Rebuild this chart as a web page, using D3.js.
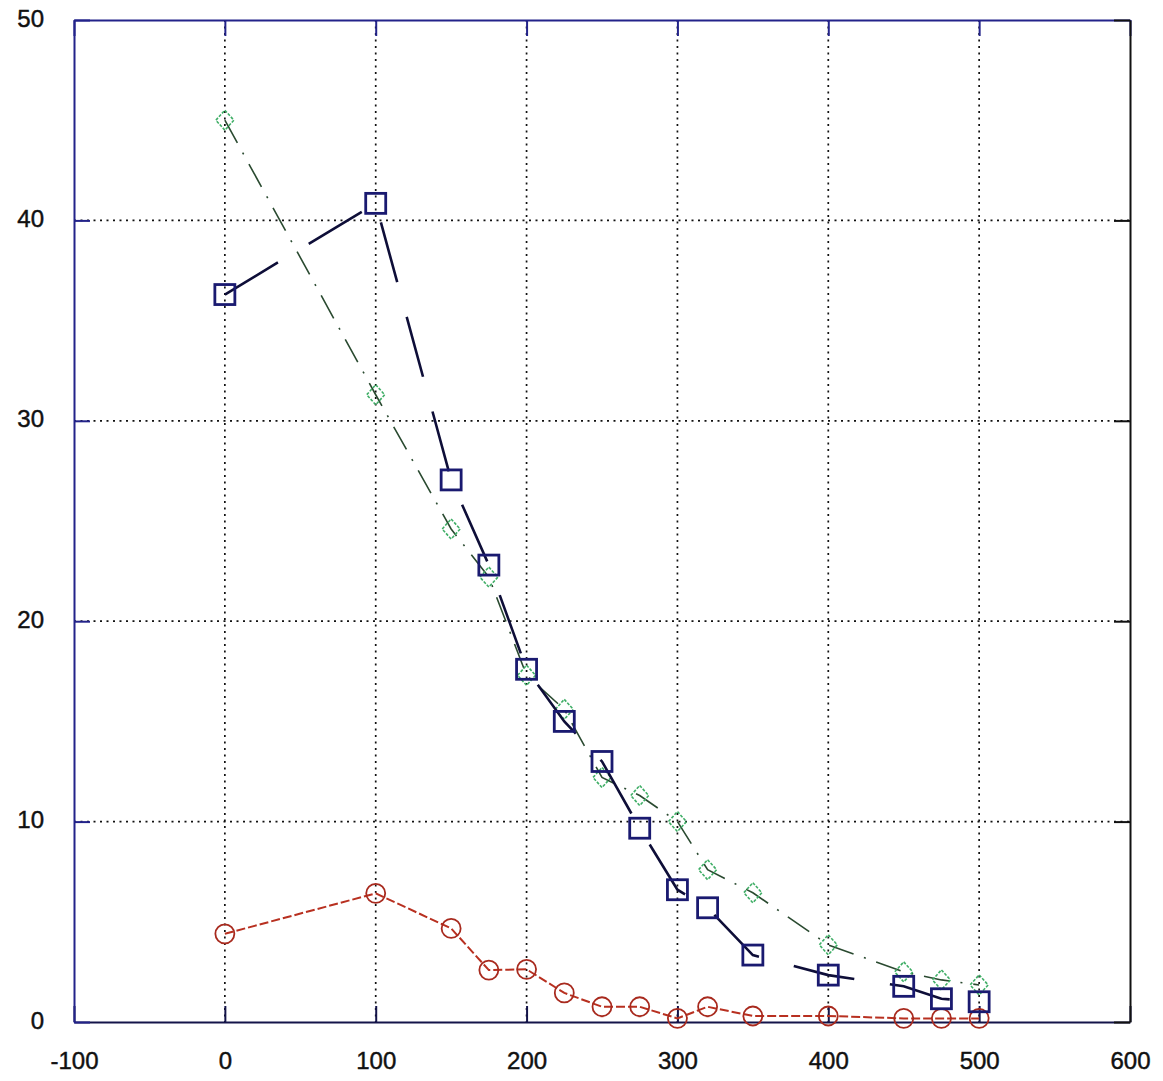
<!DOCTYPE html>
<html>
<head>
<meta charset="utf-8">
<script src="https://cdn.jsdelivr.net/npm/d3@7"></script>
<style>
  html, body { margin: 0; padding: 0; background: #fff; }
  svg { display: block; }
  .tick-label { font-family: "Liberation Sans", Arial, sans-serif; font-size: 24px; fill: #111; stroke: #111; stroke-width: 0.45px; }
</style>
</head>
<body>
<svg id="chart" width="1163" height="1081"></svg>
<script>
// Sample positions shared by all three series
const xValues = [0, 100, 150, 175, 200, 225, 250, 275, 300, 320, 350, 400, 450, 475, 500];

// Series values
const diamondSeries = [45.0, 31.3, 24.6, 22.2, 17.3, 15.6, 12.2, 11.3, 10.0, 7.6, 6.45, 3.85, 2.5, 2.1, 1.85];
const squareSeries  = [36.3, 40.85, 27.05, 22.8, 17.6, 15.0, 13.0, 9.67, 6.6, 5.7, 3.34, 2.34, 1.78, 1.16, 1.01];
const circleSeries  = [4.4, 6.42, 4.67, 2.59, 2.63, 1.45, 0.76, 0.76, 0.18, 0.76, 0.3, 0.3, 0.18, 0.18, 0.18];

// Axis ticks
const xTicks = [-100, 0, 100, 200, 300, 400, 500, 600];
const yTicks = [0, 10, 20, 30, 40, 50];

const svg = d3.select("#chart");
const plotLeft = 74, plotRight = 1130, plotTop = 20, plotBottom = 1022;

const x = d3.scaleLinear().domain([-100, 600]).range([plotLeft, plotRight]);
const y = d3.scaleLinear().domain([0, 50]).range([plotBottom, plotTop]);

// Dotted grid
const grid = svg.append("g");
grid.selectAll("line.vg").data(xTicks.filter(d => d > -100 && d < 600)).join("line")
  .attr("x1", d => x(d)).attr("x2", d => x(d))
  .attr("y1", plotTop).attr("y2", plotBottom)
  .attr("stroke", "#111").attr("stroke-width", 1.7)
  .attr("stroke-dasharray", "2,4.5");
grid.selectAll("line.hg").data(yTicks.filter(d => d > 0 && d < 50)).join("line")
  .attr("x1", plotLeft).attr("x2", plotRight)
  .attr("y1", d => y(d)).attr("y2", d => y(d))
  .attr("stroke", "#111").attr("stroke-width", 1.7)
  .attr("stroke-dasharray", "2,4.5");

// Axes (inward ticks on all four sides)
const tickLen = 16;
const fmt = d => String(d);
const axisBottom = d3.axisBottom(x).tickValues(xTicks).tickFormat(fmt).tickSizeInner(-tickLen).tickSizeOuter(0).tickPadding(30);
const axisTop = d3.axisTop(x).tickValues(xTicks).tickSizeInner(-tickLen).tickSizeOuter(0).tickFormat("");
const axisLeft = d3.axisLeft(y).tickValues(yTicks).tickFormat(fmt).tickSizeInner(-tickLen).tickSizeOuter(0).tickPadding(30);
const axisRight = d3.axisRight(y).tickValues(yTicks).tickSizeInner(-tickLen).tickSizeOuter(0).tickFormat("");

function styleAxis(g, color) {
  g.attr("font-family", null).attr("font-size", null);
  g.select(".domain").attr("stroke", color).attr("stroke-width", 2);
  g.selectAll(".tick line").attr("stroke", color).attr("stroke-width", 2);
  g.selectAll(".tick text").attr("class", "tick-label").attr("fill", "#111");
}

svg.append("g").attr("transform", `translate(0,${plotBottom})`).call(axisBottom).call(g => styleAxis(g, "#14144a"));
svg.append("g").attr("transform", `translate(0,${plotTop})`).call(axisTop).call(g => styleAxis(g, "#23238a"));
svg.append("g").attr("transform", `translate(${plotLeft},0)`).call(axisLeft).call(g => styleAxis(g, "#23238a"));
svg.append("g").attr("transform", `translate(${plotRight},0)`).call(axisRight).call(g => styleAxis(g, "#111"));

// Nudge the y labels up a touch so they sit slightly above their ticks
svg.selectAll(".tick-label").filter(function () { return this.getAttribute("x") !== null && +this.getAttribute("x") < 0; })
  .attr("dy", "0.25em");

const line = d3.line().x(d => x(d[0])).y(d => y(d[1]));
const pts = vals => xValues.map((v, i) => [v, vals[i]]);

// Circle series (red, dashed)
const cData = pts(circleSeries);
svg.append("path").datum(cData).attr("d", line)
  .attr("fill", "none").attr("stroke", "#b83020").attr("stroke-width", 2)
  .attr("stroke-dasharray", "9,3");
svg.append("g").selectAll("circle").data(cData).join("circle")
  .attr("cx", d => x(d[0])).attr("cy", d => y(d[1])).attr("r", 9.5)
  .attr("fill", "none").attr("stroke", "#a82a1e").attr("stroke-width", 1.8);

// Diamond series (green, dash-dot)
const dData = pts(diamondSeries);
svg.append("path").datum(dData).attr("d", line)
  .attr("fill", "none").attr("stroke", "#2a4a30").attr("stroke-width", 1.6)
  .attr("stroke-dasharray", "26,11,2,11");
svg.append("g").selectAll("path").data(dData).join("path")
  .attr("d", d => {
    const cx = x(d[0]), cy = y(d[1]);
    return `M${cx},${cy - 10}L${cx + 9},${cy}L${cx},${cy + 10}L${cx - 9},${cy}Z`;
  })
  .attr("fill", "none").attr("stroke", "#3fae66").attr("stroke-width", 1.6)
  .attr("stroke-dasharray", "3,1.5");

// Square series (navy, long dashes)
const sData = pts(squareSeries);
svg.append("path").datum(sData).attr("d", line)
  .attr("fill", "none").attr("stroke", "#0e0e38").attr("stroke-width", 2.6)
  .attr("stroke-dasharray", "62,36");
svg.append("g").selectAll("rect").data(sData).join("rect")
  .attr("x", d => x(d[0]) - 10).attr("y", d => y(d[1]) - 10)
  .attr("width", 20).attr("height", 20)
  .attr("fill", "none").attr("stroke", "#1a1a70").attr("stroke-width", 2.8);
</script>
</body>
</html>
